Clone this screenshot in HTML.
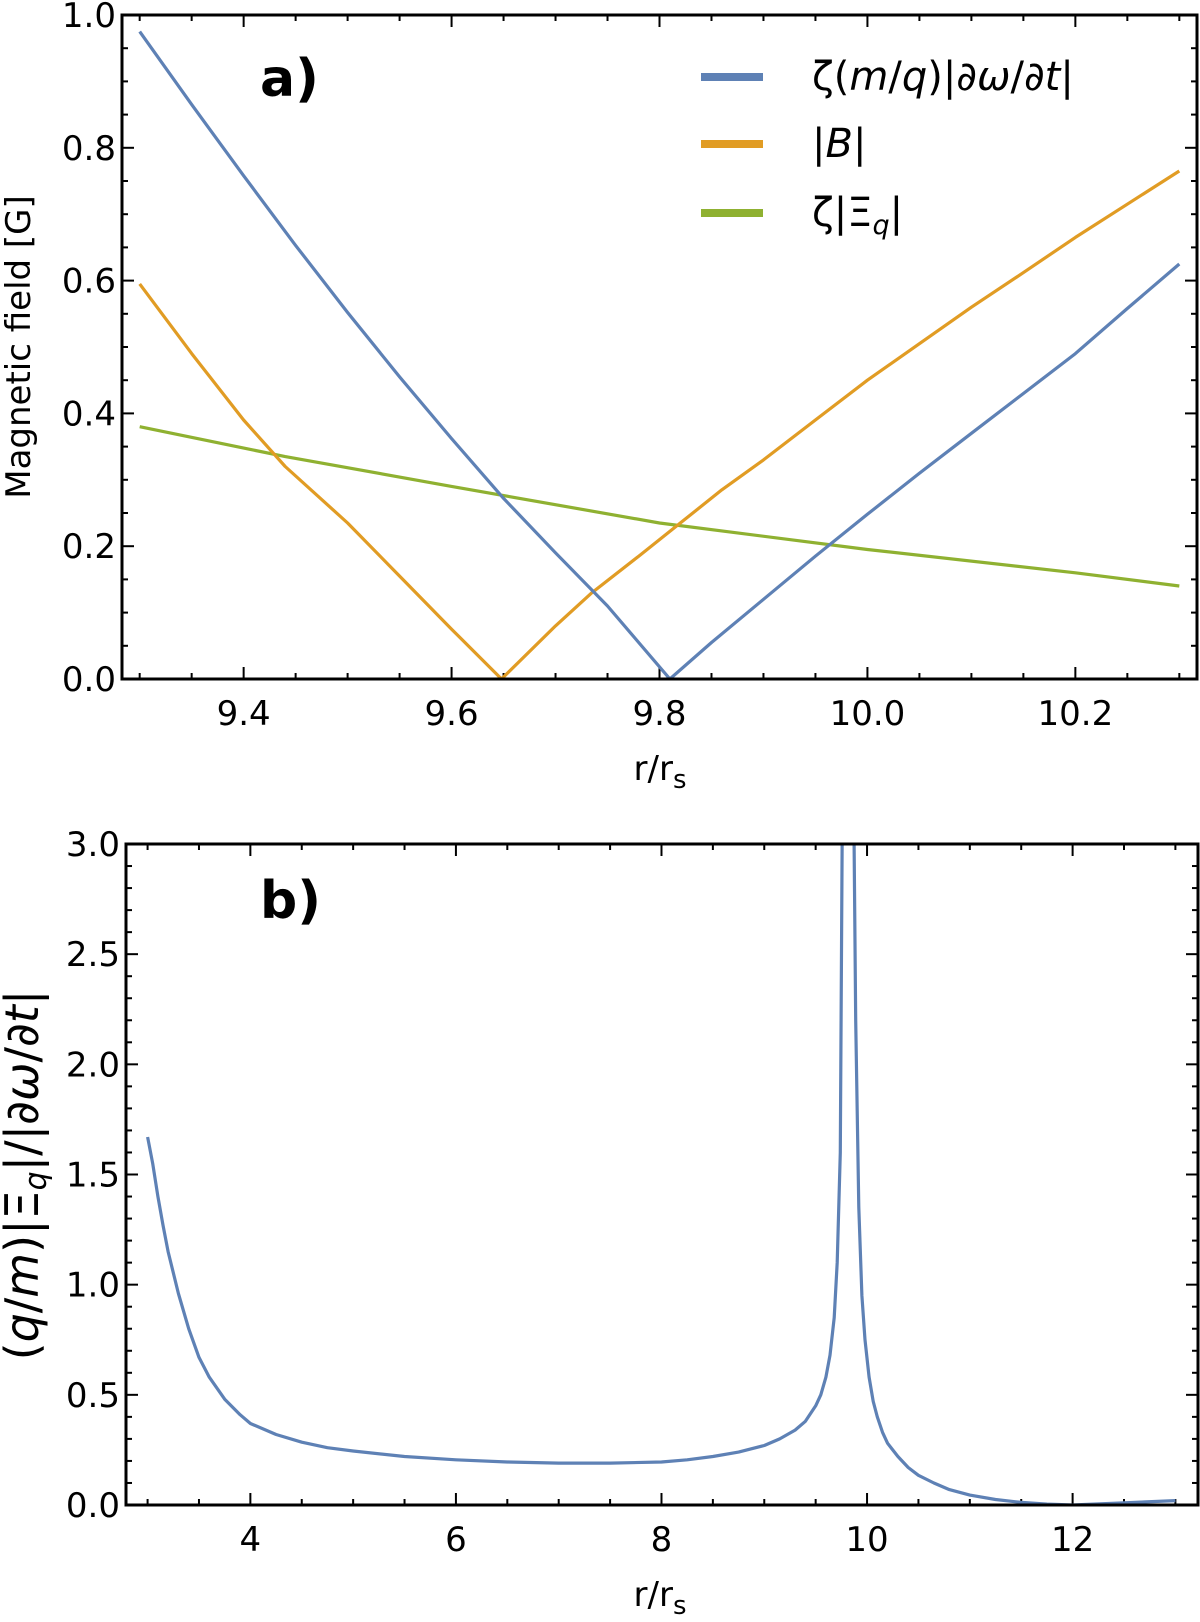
<!DOCTYPE html>
<html><head><meta charset="utf-8"><style>
body{margin:0;background:#fff}
svg text{font-family:"DejaVu Sans","Liberation Sans",sans-serif}
</style></head><body>
<svg id="fig" width="1200" height="1617" viewBox="0 0 1200 1617" xmlns="http://www.w3.org/2000/svg">
<g id="pa"></g>
<g id="pb"></g>
</svg>
<script>
// Panel a data
const aBlueX=[9.3,9.35,9.4,9.45,9.5,9.55,9.6,9.65,9.7,9.75,9.81,9.85,9.9,9.95,10.0,10.05,10.1,10.15,10.2,10.25,10.3];
const aBlueY=[0.975,0.865,0.758,0.653,0.552,0.455,0.362,0.272,0.19,0.11,0,0.055,0.12,0.185,0.248,0.31,0.37,0.43,0.49,0.558,0.625];
const aOrangeX=[9.3,9.35,9.4,9.44,9.5,9.55,9.6,9.648,9.7,9.735,9.78,9.82,9.86,9.9,9.95,10.0,10.05,10.1,10.15,10.2,10.25,10.3];
const aOrangeY=[0.595,0.49,0.39,0.32,0.235,0.155,0.075,0,0.08,0.13,0.185,0.235,0.285,0.33,0.39,0.45,0.505,0.56,0.612,0.665,0.715,0.765];
const aGreenX=[9.3,9.44,9.6,9.8,10.0,10.2,10.3];
const aGreenY=[0.38,0.335,0.29,0.235,0.195,0.16,0.14];
const aXTicks=[9.4,9.6,9.8,10.0,10.2];
const aXTickLabels=["9.4","9.6","9.8","10.0","10.2"];
const aYTicks=[0,0.2,0.4,0.6,0.8,1.0];
const aYTickLabels=["0.0","0.2","0.4","0.6","0.8","1.0"];
// Panel b data
const bX=[3,3.05,3.1,3.15,3.2,3.3,3.4,3.5,3.6,3.75,3.9,4,4.25,4.5,4.75,5,5.5,6,6.5,7,7.5,8,8.25,8.5,8.75,9,9.15,9.3,9.4,9.5,9.55,9.6,9.64,9.68,9.71,9.74,9.76,9.87,9.89,9.92,9.95,9.98,10.02,10.06,10.1,10.15,10.2,10.3,10.4,10.5,10.65,10.8,11,11.25,11.5,11.75,12,12.5,13];
const bY=[1.67,1.55,1.4,1.27,1.15,0.96,0.8,0.67,0.58,0.48,0.41,0.37,0.32,0.285,0.26,0.245,0.22,0.205,0.195,0.19,0.19,0.195,0.205,0.22,0.24,0.27,0.3,0.34,0.38,0.45,0.5,0.58,0.68,0.85,1.1,1.6,3.2,3.2,2.2,1.35,0.95,0.75,0.58,0.47,0.4,0.33,0.28,0.22,0.17,0.135,0.1,0.07,0.045,0.025,0.012,0.004,0.0,0.01,0.02];
const bXTicks=[4,6,8,10,12];
const bXTickLabels=["4","6","8","10","12"];
const bYTicks=[0,0.5,1,1.5,2,2.5,3];
const bYTickLabels=["0.0","0.5","1.0","1.5","2.0","2.5","3.0"];

const NS="http://www.w3.org/2000/svg";
function mk(parent,tag,attrs){const e=document.createElementNS(NS,tag);for(const k in attrs)e.setAttribute(k,attrs[k]);parent.appendChild(e);return e;}

function panel(g,box,xr,yr,xmin,xmaj,ymin,ymaj){
  const sx=v=>box.l+(v-xr[0])/(xr[1]-xr[0])*(box.r-box.l);
  const sy=v=>box.b-(v-yr[0])/(yr[1]-yr[0])*(box.b-box.t);
  const clip=mk(g,'clipPath',{id:g.id+'clip'});
  mk(clip,'rect',{x:box.l,y:box.t,width:box.r-box.l,height:box.b-box.t});
  const tg=mk(g,'g',{stroke:'#000','stroke-width':2});
  
  
  for(let v=Math.ceil(xr[0]/xmin)*xmin;v<=xr[1]+1e-9;v+=xmin){
    const maj=Math.abs(v/xmaj-Math.round(v/xmaj))<1e-6;const L=maj?12:6;const x=sx(v);
    mk(tg,'line',{x1:x,x2:x,y1:box.b,y2:box.b-L});mk(tg,'line',{x1:x,x2:x,y1:box.t,y2:box.t+L});
  }
  for(let v=Math.ceil(yr[0]/ymin-1e-9)*ymin;v<=yr[1]+1e-9;v+=ymin){
    const maj=Math.abs(v/ymaj-Math.round(v/ymaj))<1e-6;const L=maj?12:6;const y=sy(v);
    mk(tg,'line',{x1:box.l,x2:box.l+L,y1:y,y2:y});mk(tg,'line',{x1:box.r,x2:box.r-L,y1:y,y2:y});
  }
  return {sx,sy};
}
function series(g,sx,sy,xs,ys,color,name){
  const d=xs.map((x,i)=>(i?'L':'M')+sx(x).toFixed(1)+' '+sy(ys[i]).toFixed(1)).join(' ');
  const p=mk(g,'path',{d:d,fill:'none',stroke:color,'stroke-width':3.2,'stroke-linejoin':'round','clip-path':'url(#'+g.id+'clip)'});
  
  
}
function labels(g,sx,sy,box,xt,xl,yt,yl){
  xt.forEach((v,i)=>{const t=mk(g,'text',{x:sx(v),y:box.b+46,'text-anchor':'middle','font-size':34});t.textContent=xl[i];
    
    });
  yt.forEach((v,i)=>{const t=mk(g,'text',{x:box.l-6,y:sy(v)+12,'text-anchor':'end','font-size':34});t.textContent=yl[i];
    
    });
}

const ga=document.getElementById('pa');
const boxA={l:122,r:1197,t:15,b:679};
const A=panel(ga,boxA,[9.283,10.317],[0,1.0],0.05,0.2,0.05,0.2);
series(ga,A.sx,A.sy,aGreenX,aGreenY,'#8fb131','series-zeta-xi');
series(ga,A.sx,A.sy,aOrangeX,aOrangeY,'#e19c24','series-abs-b');
series(ga,A.sx,A.sy,aBlueX,aBlueY,'#5e81b5','series-zeta-domega');
labels(ga,A.sx,A.sy,boxA,aXTicks,aXTickLabels,aYTicks,aYTickLabels);
mk(ga,'rect',{x:boxA.l,y:boxA.t,width:boxA.r-boxA.l,height:boxA.b-boxA.t,fill:'none',stroke:'#000','stroke-width':3});
const gb=document.getElementById('pb');
const boxB={l:126,r:1198,t:844,b:1505};
const B=panel(gb,boxB,[2.79,13.22],[0,3],0.5,2,0.1,0.5);
series(gb,B.sx,B.sy,bX,bY,'#5e81b5','series-ratio');
labels(gb,B.sx,B.sy,boxB,bXTicks,bXTickLabels,bYTicks,bYTickLabels);
mk(gb,'rect',{x:boxB.l,y:boxB.t,width:boxB.r-boxB.l,height:boxB.b-boxB.t,fill:'none',stroke:'#000','stroke-width':3});
</script>
<svg width="1200" height="1617" style="position:absolute;left:0;top:0" xmlns="http://www.w3.org/2000/svg">
<g>
<line x1="701" x2="763" y1="77" y2="77" stroke="#5e81b5" stroke-width="8"/>
<line x1="701" x2="763" y1="144" y2="144" stroke="#e19c24" stroke-width="8"/>
<line x1="701" x2="763" y1="213" y2="213" stroke="#8fb131" stroke-width="8"/>
<text x="812" y="90" font-family="Liberation Serif,serif" font-size="40">ζ(<tspan font-style="italic">m</tspan>/<tspan font-style="italic">q</tspan>)|∂<tspan font-style="italic">ω</tspan>/∂<tspan font-style="italic">t</tspan>|</text>
<text x="812" y="157" font-family="Liberation Serif,serif" font-size="40">|<tspan font-style="italic">B</tspan>|</text>
<text x="812" y="226" font-family="Liberation Serif,serif" font-size="40">ζ|Ξ<tspan font-style="italic" font-size="27" dy="8">q</tspan><tspan dy="-8">|</tspan></text>
</g>
<text x="260" y="96" font-family="DejaVu Sans,sans-serif" font-weight="bold" font-size="52">a)</text>
<text x="260" y="918" font-family="DejaVu Sans,sans-serif" font-weight="bold" font-size="52">b)</text>
<text x="660" y="780" text-anchor="middle" font-family="DejaVu Sans,sans-serif" font-size="34">r/r<tspan font-size="26" dy="8">s</tspan></text>
<text x="660" y="1606" text-anchor="middle" font-family="DejaVu Sans,sans-serif" font-size="34">r/r<tspan font-size="26" dy="8">s</tspan></text>
<text transform="translate(30,347) rotate(-90)" text-anchor="middle" font-family="DejaVu Sans,sans-serif" font-size="34">Magnetic field [G]</text>
<text transform="translate(38,1175) rotate(-90)" text-anchor="middle" font-family="Liberation Serif,serif" font-size="46">(<tspan font-style="italic">q</tspan>/<tspan font-style="italic">m</tspan>)|Ξ<tspan font-style="italic" font-size="30" dy="8">q</tspan><tspan dy="-8">|/|∂</tspan><tspan font-style="italic">ω</tspan>/∂<tspan font-style="italic">t</tspan>|</text>
</svg>
</body></html>
